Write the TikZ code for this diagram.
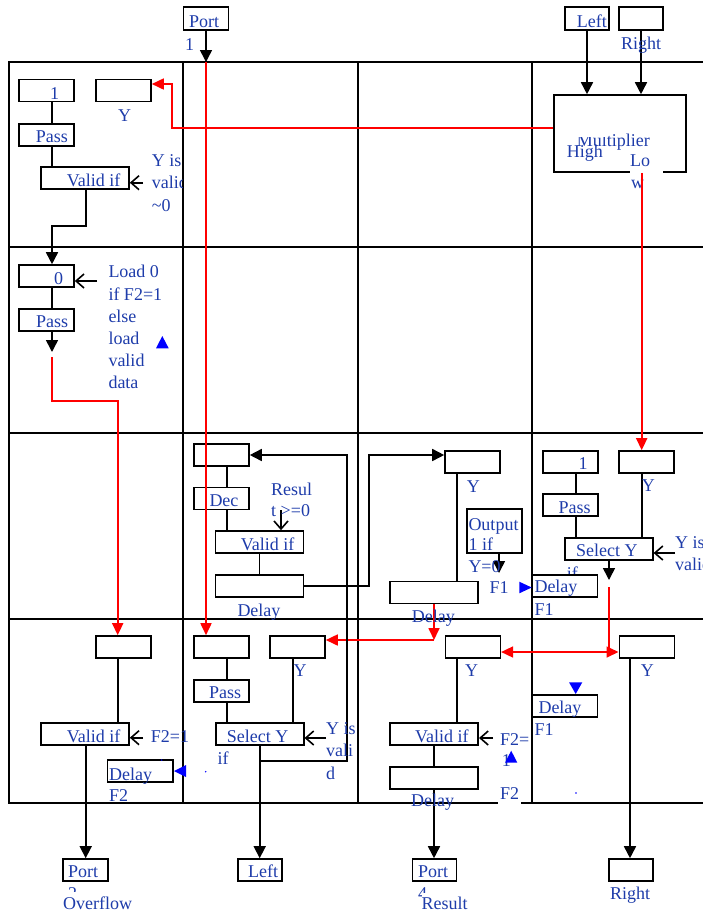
\documentclass[tikz,border=0pt]{standalone}
\usepackage{fontspec}
\setmainfont{Liberation Serif}
\usetikzlibrary{arrows.meta,calc}
\definecolor{tblue}{RGB}{30,60,170}
\begin{document}
\begin{tikzpicture}[x=1pt,y=-1pt,
  box/.style={draw, line width=1.6pt, minimum width=55pt, minimum height=22pt, inner sep=0pt},
  wbox/.style={box, minimum width=88pt},
  lbl/.style={text=tblue, font=\fontsize{18}{21}\selectfont, inner sep=0pt, anchor=base west},
  gridline/.style={line width=1.8pt, line cap=rect},
  con/.style={line width=1.6pt},
  blk/.style={con, -{Triangle[length=12pt,width=12pt]}},
  redline/.style={line width=1.7pt, red},
  redarr/.style={redline, -{Triangle[length=12pt,width=11pt]}},
  openarr/.style={con, -{Straight Barb[length=8pt,width=14pt,line width=1.6pt]}},
]
\useasboundingbox (0,0) rectangle (703,914);

% grid
\draw[gridline] (9,62) -- (703,62);
\draw[gridline] (9,247.3) -- (703,247.3);
\draw[gridline] (9,433.3) -- (703,433.3);
\draw[gridline] (9,619) -- (703,619);
\draw[gridline] (9,803.3) -- (703,803.3);
\draw[gridline] (9,62) -- (9,803.3);
\draw[gridline] (183.3,62) -- (183.3,803.3);
\draw[gridline] (357.7,62) -- (357.7,803.3);
\draw[gridline] (532.3,62) -- (532.3,803.3);

% guides
\coordinate (v52) at (52,0);
\coordinate (v85) at (85.7,0);
\coordinate (v227) at (227,0);
\coordinate (v292) at (292.7,0);
\coordinate (v456) at (456.7,0);
\coordinate (v576) at (576,0);
\coordinate (v630) at (630,0);

% ports and multiplier
\node[box, minimum width=45pt, minimum height=23pt] (P1) at (206,18.5) {};
\node[box, minimum width=44pt, minimum height=23pt] (PL) at (587,18.5) {};
\node[box, minimum width=44pt, minimum height=23pt] (PR) at (641,18.5) {};
\node[box, minimum width=132pt, minimum height=77pt] (Mult) at (620,133.5) {};
\node[box, minimum width=45pt] (P3) at (85.3,870) {};
\node[box, minimum width=44pt] (PLft) at (260,870) {};
\node[box, minimum width=44pt] (P4) at (434.5,870) {};
\node[box, minimum width=44pt] (PRt) at (630.7,870) {};

% row 1
\node[box] (bOne1) at (46.5,90.5) {};
\node[box] (bY1) at (123.5,90.5) {};
\node[box] (bPass1) at (46.5,135) {};
\node[wbox] (bValid1) at (85,178) {};
% row 2
\node[box] (bZero) at (46.5,276) {};
\node[box] (bPass2) at (46.5,320) {};
% row 3
\node[box] (bTop32) at (221.5,455) {};
\node[box] (bDec) at (221.5,498.5) {};
\node[wbox] (bValid32) at (259.5,542) {};
\node[wbox] (bDelay32) at (259.5,586) {};
\node[box] (bY33) at (472.5,462) {};
\node[box, minimum height=44pt] (bOut) at (494.3,531) {};
\node[wbox] (bDelay33) at (433.8,592.5) {};
\node[box] (bOne34) at (570.3,462) {};
\node[box] (bY34) at (646.5,462) {};
\node[box] (bPass34) at (570.3,505) {};
\node[wbox] (bSel34) at (608.8,549) {};
\node[lbl] (tif34) at (566.7,579) {if};
\node[box, fill=white, minimum width=65.7pt] (bDelF1a) at (564.8,585.8) {};
% row 4
\node[box] (bTop41) at (123.5,647) {};
\node[wbox] (bValid41) at (85,734) {};
\node[box, minimum width=65.4pt] (bDelF2) at (140,771) {};
\node[box] (bTop42) at (221.5,647) {};
\node[box] (bY42) at (297.5,647) {};
\node[box] (bPass42) at (221.5,691) {};
\node[wbox] (bSel42) at (259.7,734) {};
\node[box] (bY43) at (472.8,647) {};
\node[wbox] (bValid43) at (434.2,734) {};
\node[wbox] (bLow43) at (434.2,778) {};
\node[box] (bY44) at (646.8,647) {};
\node[box, minimum width=65.7pt] (bDelF1b) at (564.8,705.8) {};

% multiplier texts
\node[lbl] (tmult) at (576.7,146) {Multiplier};
\fill[white] (570,126) rectangle (607,137);
\node[lbl] (thigh) at (566.7,157) {High};
\fill[white] (630,169) rectangle (663,175.5);
\node[lbl] (tlo) at (630,166.7) {Lo};
\node[lbl] (tw) at (631,188) {w};

% connectors: top
\coordinate (gP1) at (206,62);
\draw[blk] (P1.south) -- (gP1);
\draw[blk] (PL.south) -- (PL.south |- Mult.north);
\draw[blk] (PR.south) -- (PR.south |- Mult.north);
\coordinate (rA) at (172,128);
\coordinate (rB) at (172,84);
\draw[redarr] (rA -| Mult.west) -- (rA) -- (rB) -- (rB -| bY1.east);
\coordinate (rM) at ([xshift=21.7pt]Mult.south);
\draw[redarr] (rM) -- (rM |- bY34.north);

% row 1
\draw[con] (bOne1.south -| v52) -- (bPass1.north -| v52);
\draw[con] (bPass1.south -| v52) -- (bValid1.north -| v52);
\coordinate (h226) at (0,226);
\draw[blk] (bValid1.south -| v85) -- (v85 |- h226) -- (v52 |- h226) -- (bZero.north -| v52);
\coordinate (o1) at (143,182.7);
\draw[openarr] (o1) -- (o1 -| bValid1.east);

% row 2
\coordinate (o2) at (97,281);
\draw[openarr] (o2) -- (o2 -| bZero.east);
\draw[con] (bZero.south -| v52) -- (bPass2.north -| v52);
\coordinate (a2) at (52,352);
\draw[blk] (bPass2.south -| v52) -- (a2);
\coordinate (r2s) at (52,357);
\coordinate (r2c) at (117.7,400.7);
\draw[redarr] (r2s) -- (r2s |- r2c) -- (r2c) -- (r2c |- bTop41.north);

% row 3 col 2
\draw[con] (bTop32.south -| v227) -- (bDec.north -| v227);
\draw[con] (bDec.south -| v227) -- (bValid32.north -| v227);
\coordinate (o3) at (281,510);
\draw[openarr] (o3) -- (o3 |- bValid32.north);
\draw[con] (bValid32.south) -- (bDelay32.north);
\coordinate (k1) at (369,455);
\draw[blk] (bDelay32.east) -- (bDelay32.east -| k1) -- (k1) -- (k1 -| bY33.west);

% row 3 col 3
\draw[con] (bY33.south -| v456) -- (bDelay33.north -| v456);
\coordinate (a3) at (499,573);
\draw[blk] (bOut.south -| a3) -- (a3);
\coordinate (rc) at (434,640);
\draw[redarr] (bDelay33.south -| rc) -- (rc);
\draw[redarr] (rc) -- (rc -| bY42.east);

% row 3 col 4
\draw[con] (bOne34.south -| v576) -- (bPass34.north -| v576);
\draw[con] (bPass34.south -| v576) -- (bSel34.north -| v576);
\draw[con] (bY34.south -| rM) -- (bSel34.north -| rM);
\coordinate (o4) at (675,553);
\draw[openarr] (o4) -- (o4 -| bSel34.east);
\coordinate (a4) at (609,580);
\draw[blk] (bSel34.south -| a4) -- (a4);
\coordinate (r4s) at (609,587);
\coordinate (r4c) at (609,652);
\draw[redline] (r4s) -- (r4c);
\draw[redarr] (r4c) -- (r4c -| bY44.west);
\draw[redarr] (r4c) -- (r4c -| bY43.east);

% row 4 col 1
\draw[con] (bTop41.south -| r2c) -- (bValid41.north -| r2c);
\coordinate (o5) at (143,737.7);
\draw[openarr] (o5) -- (o5 -| bValid41.east);
\draw[blk] (bValid41.south -| v85) -- (P3.north -| v85);

% row 4 col 2
\draw[con] (bTop42.south -| v227) -- (bPass42.north -| v227);
\draw[con] (bPass42.south -| v227) -- (bSel42.north -| v227);
\draw[con] (bY42.south -| v292) -- (bSel42.north -| v292);
\coordinate (o6) at (326,738);
\draw[openarr] (o6) -- (o6 -| bSel42.east);
\draw[blk] (bSel42.south) -- (bSel42.south |- PLft.north);
\coordinate (f1) at (347,760.7);
\coordinate (f2) at (347,455);
\draw[blk] (f1 -| bSel42.south) -- (f1) -- (f2) -- (f2 -| bTop32.east);

% row 4 col 3
\draw[con] (bY43.south -| v456) -- (bValid43.north -| v456);
\coordinate (o7) at (493,738);
\draw[openarr] (o7) -- (o7 -| bValid43.east);
\draw[con] (bValid43.south -| rc) -- (bLow43.north -| rc);
\draw[blk] (bLow43.south -| rc) -- (P4.north -| rc);

% row 4 col 4
\draw[blk] (bY44.south -| v630) -- (PRt.north -| v630);

% long red line from Port 1
\draw[redarr] (gP1) -- (gP1 |- bTop42.north);

% blue marks
\fill[blue] (156,348.3) -- (168.7,348.3) -- (162.3,336) -- cycle;
\fill[blue] (519.3,581.7) -- (519.3,593.3) -- (531.7,587.5) -- cycle;
\fill[blue] (186,765) -- (186,777) -- (174,771) -- cycle;
\fill[blue] (569,682.3) -- (582.3,682.3) -- (575.7,694) -- cycle;
\fill[blue] (161.7,760) circle (0.8);
\fill[blue] (205.7,771.7) circle (0.8);
\fill[blue] (576,793) circle (0.8);

% texts: top ports
\node[lbl] (tp1) at (189,27.3) {Port};
\node[lbl] (tp1n) at (185,50) {1};
\node[lbl] (tleft) at (576.7,27) {Left};
\node[lbl] (tright) at (621,49) {Right};

% row 1
\node[lbl] (tone1) at (50,99) {1};
\node[lbl] (ty1) at (118,121) {Y};
\node[lbl] (tpass1) at (35.7,142.3) {Pass};
\node[lbl] (tvalid1) at (66.7,186.7) {Valid if};
\begin{scope}
\clip (9,62) rectangle (182.4,247);
\node[lbl] (tyis1) at (151.7,166.7) {Y is};
\node[lbl] (tyis1b) at (151.7,188.3) {valid};
\node[lbl] (tyis1c) at (151.7,211.7) {\textasciitilde0};
\end{scope}

% row 2
\node[lbl] (tzero) at (54,284) {0};
\node[lbl] (tpass2) at (36,327.7) {Pass};
\node[lbl] (tload1) at (108.3,277.7) {Load 0};
\node[lbl] (tload2) at (108.3,300) {if F2=1};
\node[lbl] (tload3) at (108.3,322.3) {else};
\node[lbl] (tload4) at (108.3,344.3) {load};
\node[lbl] (tload5) at (108.3,366.7) {valid};
\node[lbl] (tload6) at (108.3,388.3) {data};

% row 3 col 2
\node[lbl] (tdec) at (209.3,506.7) {Dec};
\node[lbl] (tres1) at (271,495) {Resul};
\node[lbl] (tres2) at (271,516.7) {t >=0};
\node[lbl] (tvalid32) at (240.7,550.7) {Valid if};
\node[lbl] (tdelay32) at (237.3,616.7) {Delay};

% row 3 col 3
\node[lbl] (ty33) at (466.7,492.3) {Y};
\node[lbl] (tout1) at (468.3,530) {Output};
\node[lbl] (tout2) at (468.3,550.7) {1 if};
\node[lbl] (tout3) at (468.3,572.7) {Y=0};
\node[lbl] (tf1a) at (489.3,593.3) {F1};
\node[lbl] (tdelay33) at (411.7,622) {Delay};

% row 3 col 4
\node[lbl] (tone34) at (578.3,469.3) {1};
\node[lbl] (ty34) at (641.7,491.7) {Y};
\node[lbl] (tpass34) at (558.3,513.3) {Pass};
\node[lbl] (tsel34) at (576,556.7) {Select Y};
\node[lbl] (tyis34) at (675,548.3) {Y is};
\node[lbl] (tyis34b) at (675,570) {valid};
\node[lbl] (tdelf1a) at (534.3,592.7) {Delay};
\node[lbl] (tF1a) at (534.3,615) {F1};

% row 4 col 1
\node[lbl] (tvalid41) at (66.7,742.7) {Valid if};
\node[lbl] (tf2eq) at (150.7,742.7) {F2=1};
\node[lbl] (tdelf2) at (109,780) {Delay};
\node[lbl] (tF2) at (109,801.7) {F2};

% row 4 col 2
\node[lbl] (ty42) at (293.3,676) {Y};
\node[lbl] (tpass42) at (209,698.3) {Pass};
\node[lbl] (tsel42) at (226.7,742.7) {Select Y};
\node[lbl] (tyis42) at (326,734) {Y is};
\node[lbl] (tvali) at (326,756.7) {vali};
\node[lbl] (td) at (326,779) {d};
\node[lbl] (tif42) at (217.3,764) {if};

% row 4 col 3
\node[lbl] (ty43) at (465,676) {Y};
\node[lbl] (tvalid43) at (415,742.7) {Valid if};
\node[lbl] (tf2e) at (500,745) {F2=};
\node[lbl] (t1b) at (501.7,766.7) {1};
\fill[blue] (505,762.7) -- (517.3,762.7) -- (511.2,750.7) -- cycle;
\node[lbl, fill=white, inner xsep=2pt, text depth=6pt] (tF2c) at (498,799) {F2};
\node[lbl] (tdelay43) at (411,806.7) {Delay};

% row 4 col 4
\node[lbl] (ty44) at (640.7,676) {Y};
\node[lbl] (tdelf1b) at (538.3,713.3) {Delay};
\node[lbl] (tF1b) at (534.3,735) {F1};

% bottom ports
\node[lbl] (tport3) at (68,877.3) {Port};
\node[lbl] (ttwo) at (68,899) {2};
\node[lbl, fill=white, inner ysep=4pt] (tover) at (63,909) {Overflow};
\node[lbl] (tleftb) at (248,877.3) {Left};
\node[lbl] (tport4) at (418,877.3) {Port};
\node[lbl] (tfour) at (418,899) {4};
\node[lbl, fill=white, inner ysep=4pt] (tresult) at (421.5,909) {Result};
\node[lbl] (trightb) at (610,899) {Right};
\end{tikzpicture}
\end{document}
